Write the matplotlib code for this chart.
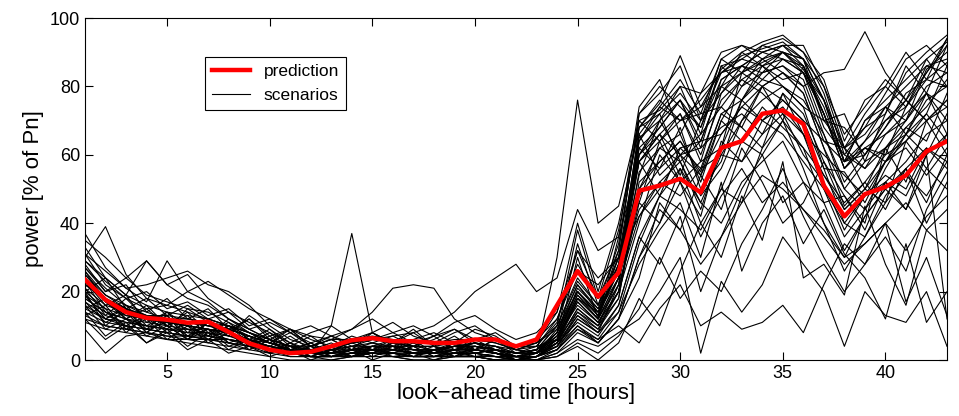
import numpy as np
import matplotlib.pyplot as plt

plt.rcParams['font.family'] = ['Liberation Sans', 'DejaVu Sans']

hours = np.arange(1, 44)

prediction = [23.5, 17.6, 14, 12.3, 11.8, 10.9, 11.2, 8.2, 4.9, 3, 2, 2.4, 4, 5.8, 6.4,
              5.5, 5.5, 5, 5, 6, 6, 4, 6, 16, 26, 18.5, 25.6, 49.5, 51, 53, 49, 62,
              64, 72, 73, 69, 51, 42, 48.5, 50.6, 54, 61, 64]

# scenario values per hour (1..43)
s01 = [30, 39, 25, 18, 16, 14, 12, 10, 8, 5, 3, 2, 2, 3, 4, 3, 2, 3, 4, 3, 2, 1, 2, 9, 22, 14, 32, 72, 78, 86, 70, 84, 89, 91, 93, 88, 76, 58, 70, 76, 82, 88, 93]
s02 = [37, 27, 21, 17, 29, 20, 17, 12, 9, 6, 4, 2, 1, 2, 3, 2, 2, 1, 2, 2, 1, 0, 1, 6, 18, 12, 28, 65, 70, 80, 78, 84, 86, 90, 92, 86, 72, 56, 64, 74, 70, 85, 90]
s03 = [33, 24, 19, 29, 22, 25, 18, 14, 11, 8, 5, 3, 3, 5, 6, 5, 4, 4, 5, 6, 5, 3, 5, 14, 40, 20, 40, 68, 75, 89, 74, 85, 90, 93, 95, 90, 82, 64, 76, 80, 74, 86, 88]
s04 = [28, 20, 22, 14, 18, 12, 15, 9, 12, 7, 9, 4, 6, 3, 8, 5, 9, 4, 7, 3, 6, 4, 6, 12, 28, 18, 26, 60, 66, 72, 58, 78, 84, 88, 90, 86, 70, 68, 60, 68, 78, 82, 80]
s05 = [25, 19, 15, 12, 11, 10, 9, 8, 6, 3, 2, 1, 1, 2, 3, 3, 2, 2, 3, 3, 2, 1, 2, 8, 20, 13, 30, 58, 64, 70, 72, 74, 82, 86, 88, 84, 68, 60, 56, 66, 72, 78, 92]
s06 = [22, 18, 14, 13, 12, 11, 10, 9, 7, 5, 3, 2, 2, 3, 4, 4, 3, 3, 4, 4, 3, 2, 3, 10, 24, 16, 34, 70, 73, 80, 66, 86, 88, 92, 94, 90, 78, 60, 68, 72, 84, 90, 95]
s07 = [20, 10, 15, 8, 13, 6, 11, 5, 3, 6, 2, 4, 1, 3, 0, 2, 4, 1, 3, 1, 2, 0, 0, 3, 12, 8, 22, 55, 62, 66, 52, 70, 80, 84, 86, 82, 66, 50, 58, 62, 66, 76, 80]
s08 = [18, 14, 12, 10, 9, 8, 8, 6, 5, 4, 2, 2, 1, 1, 2, 1, 1, 1, 1, 1, 0, 0, 1, 5, 15, 10, 24, 62, 68, 76, 64, 80, 84, 87, 90, 85, 74, 58, 62, 60, 74, 82, 87]
s09 = [26, 17, 12, 16, 10, 14, 8, 11, 6, 9, 4, 7, 3, 5, 8, 4, 6, 2, 5, 3, 6, 2, 3, 7, 16, 11, 20, 48, 56, 62, 64, 66, 74, 80, 84, 78, 62, 45, 52, 60, 64, 70, 76]
s10 = [24, 17, 13, 12, 11, 10, 9, 7, 5, 3, 1, 1, 1, 2, 2, 2, 1, 1, 2, 2, 1, 1, 1, 4, 14, 9, 18, 52, 58, 64, 55, 72, 76, 84, 86, 80, 64, 62, 50, 62, 68, 64, 78]
s11 = [21, 13, 18, 12, 9, 15, 11, 7, 13, 9, 5, 8, 10, 6, 8, 11, 7, 5, 8, 10, 6, 3, 5, 9, 20, 14, 24, 44, 52, 58, 46, 60, 70, 76, 80, 74, 56, 40, 48, 52, 58, 66, 70]
s12 = [19, 15, 8, 13, 10, 6, 11, 9, 4, 7, 3, 5, 2, 6, 3, 5, 8, 4, 2, 6, 3, 1, 3, 6, 17, 11, 20, 40, 60, 52, 42, 64, 58, 70, 74, 66, 50, 36, 44, 52, 48, 60, 66]
s13 = [16, 9, 12, 7, 10, 6, 9, 4, 6, 2, 4, 1, 3, 1, 4, 2, 1, 3, 1, 4, 2, 0, 2, 5, 13, 8, 16, 36, 48, 56, 40, 50, 64, 60, 70, 62, 46, 32, 42, 50, 44, 56, 50]
s14 = [23, 16, 19, 11, 14, 8, 12, 10, 5, 8, 3, 5, 2, 4, 1, 3, 5, 2, 4, 2, 3, 1, 2, 6, 19, 12, 22, 66, 54, 60, 62, 68, 72, 66, 78, 72, 58, 44, 50, 58, 62, 54, 62]
s15 = [12, 10, 9, 8, 7, 7, 6, 5, 4, 3, 2, 2, 10, 37, 8, 5, 4, 4, 3, 3, 2, 1, 2, 6, 14, 10, 18, 50, 62, 58, 44, 62, 76, 70, 66, 58, 50, 40, 36, 46, 54, 48, 58]
s16 = [15, 12, 11, 10, 9, 8, 7, 6, 5, 4, 3, 2, 2, 3, 3, 3, 2, 3, 4, 5, 4, 3, 2, 30, 76, 40, 45, 70, 64, 72, 60, 76, 82, 78, 72, 66, 60, 54, 48, 58, 66, 72, 64]
s17 = [17, 13, 11, 10, 9, 9, 8, 7, 6, 5, 4, 4, 6, 9, 14, 21, 22, 21, 12, 8, 6, 4, 4, 12, 26, 22, 30, 46, 40, 52, 36, 48, 56, 46, 52, 44, 38, 30, 34, 40, 46, 38, 44]
s18 = [14, 11, 10, 9, 8, 7, 6, 6, 5, 4, 3, 3, 4, 5, 6, 7, 8, 10, 14, 20, 24, 28, 20, 24, 44, 32, 36, 58, 66, 60, 54, 70, 64, 74, 68, 62, 54, 46, 52, 44, 56, 62, 58]
s19 = [27, 20, 24, 29, 22, 18, 16, 12, 9, 6, 4, 3, 2, 2, 3, 3, 2, 2, 2, 3, 2, 1, 1, 5, 18, 14, 26, 64, 74, 70, 74, 80, 76, 82, 80, 76, 66, 52, 60, 70, 76, 70, 74]
s20 = [31, 26, 21, 22, 24, 26, 22, 20, 16, 10, 6, 4, 3, 3, 4, 4, 3, 3, 3, 4, 3, 2, 2, 8, 34, 16, 30, 60, 70, 76, 68, 82, 86, 84, 90, 88, 80, 62, 66, 74, 80, 86, 84]
s21 = [9, 2, 7, 8, 6, 5, 4, 3, 2, 1, 0, 0, 0, 1, 1, 1, 0, 0, 1, 1, 0, 0, 0, 2, 8, 5, 12, 30, 44, 38, 28, 36, 46, 54, 50, 44, 36, 28, 34, 40, 32, 42, 48]
s22 = [29, 23, 18, 15, 16, 20, 23, 19, 15, 12, 9, 7, 6, 6, 7, 6, 5, 5, 6, 6, 5, 3, 4, 11, 32, 18, 38, 68, 72, 78, 70, 88, 92, 90, 88, 84, 72, 56, 62, 58, 68, 74, 82]
s23 = [20, 24, 15, 18, 13, 16, 12, 14, 9, 11, 8, 10, 7, 9, 12, 8, 10, 7, 11, 13, 9, 6, 8, 14, 32, 24, 30, 42, 50, 60, 48, 56, 70, 80, 76, 70, 64, 58, 60, 68, 76, 84, 94]
s24 = [13, 10, 9, 8, 7, 6, 6, 5, 4, 3, 2, 1, 1, 1, 2, 2, 1, 1, 1, 1, 1, 0, 0, 2, 6, 4, 8, 12, 20, 30, 2, 23, 14, 22, 36, 28, 20, 4, 20, 13, 11, 20, 4]
s25 = [16, 12, 10, 9, 8, 7, 7, 6, 4, 3, 2, 1, 1, 2, 2, 2, 1, 1, 2, 2, 1, 1, 1, 3, 9, 6, 10, 5, 15, 22, 10, 14, 9, 11, 16, 8, 22, 34, 28, 40, 17, 30, 13]
s26 = [11, 9, 8, 7, 6, 6, 5, 4, 3, 2, 1, 1, 0, 1, 1, 1, 0, 0, 1, 1, 0, 0, 0, 1, 4, 0, 5, 18, 10, 26, 40, 30, 48, 35, 58, 24, 28, 19, 45, 28, 16, 38, 32]
s27 = [19, 12, 15, 9, 11, 7, 9, 5, 7, 3, 5, 2, 4, 1, 3, 2, 4, 1, 3, 5, 2, 0, 1, 4, 12, 8, 14, 28, 38, 46, 30, 52, 26, 40, 48, 34, 44, 31, 24, 12, 34, 11, 20]
s28 = [23, 14, 10, 13, 8, 11, 6, 9, 4, 2, 5, 1, 3, 1, 2, 4, 2, 3, 1, 2, 3, 1, 1, 5, 11, 7, 16, 36, 28, 42, 20, 36, 50, 60, 46, 52, 40, 26, 36, 48, 56, 40, 52]
s29 = [15, 18, 12, 9, 14, 10, 7, 12, 8, 5, 9, 6, 4, 7, 5, 3, 6, 8, 5, 9, 7, 3, 2, 4, 10, 5, 12, 24, 46, 38, 54, 44, 62, 52, 40, 46, 58, 48, 38, 52, 44, 60, 12]
s30 = [12, 6, 10, 5, 8, 3, 6, 2, 4, 1, 3, 0, 2, 1, 3, 1, 2, 0, 2, 1, 0, 1, 0, 1, 5, 2, 7, 15, 30, 18, 26, 20, 34, 44, 56, 42, 30, 20, 28, 36, 26, 44, 55]
s31 = [27, 21, 16, 14, 12, 11, 10, 8, 6, 4, 3, 2, 2, 3, 3, 3, 2, 2, 3, 3, 2, 1, 2, 7, 20, 13, 28, 62, 56, 68, 50, 58, 76, 86, 80, 74, 70, 62, 56, 62, 70, 78, 66]
s32 = [21, 16, 14, 12, 12, 11, 10, 9, 7, 5, 3, 2, 2, 3, 4, 4, 3, 3, 4, 4, 3, 2, 3, 8, 22, 15, 26, 54, 70, 60, 66, 74, 68, 62, 78, 66, 54, 44, 50, 46, 64, 72, 86]
s33 = [24, 18, 15, 13, 12, 12, 11, 10, 8, 6, 4, 3, 3, 4, 5, 4, 4, 3, 4, 5, 4, 2, 3, 10, 38, 18, 32, 72, 80, 74, 68, 86, 80, 88, 84, 80, 84, 85, 96, 84, 76, 70, 60]
s34 = [18, 14, 12, 11, 10, 9, 9, 8, 6, 4, 2, 1, 1, 2, 3, 2, 2, 2, 2, 3, 2, 1, 1, 4, 13, 9, 20, 46, 64, 52, 58, 62, 84, 80, 70, 86, 76, 62, 72, 80, 90, 82, 94]
s35 = [20, 15, 13, 12, 11, 10, 9, 8, 6, 4, 3, 2, 1, 2, 3, 3, 2, 2, 3, 3, 2, 1, 1, 5, 30, 12, 36, 74, 82, 66, 78, 90, 92, 88, 92, 92, 80, 66, 74, 82, 76, 88, 80]
s36 = [35, 30, 24, 19, 17, 15, 14, 11, 8, 5, 3, 2, 1, 2, 2, 2, 1, 1, 2, 2, 1, 0, 1, 6, 21, 15, 30, 66, 74, 82, 72, 88, 84, 92, 90, 88, 70, 72, 58, 72, 86, 78, 70]
s37 = [17, 11, 14, 8, 12, 9, 6, 10, 7, 5, 8, 4, 6, 3, 5, 7, 4, 6, 9, 5, 3, 2, 4, 6, 18, 12, 24, 58, 48, 62, 56, 72, 68, 80, 84, 78, 62, 50, 44, 56, 66, 60, 72]
s38 = [22, 18, 12, 15, 10, 13, 7, 10, 6, 4, 7, 3, 5, 2, 4, 6, 3, 2, 5, 3, 4, 1, 1, 5, 17, 11, 22, 42, 52, 48, 56, 60, 58, 66, 72, 60, 52, 38, 48, 54, 50, 62, 56]
s39 = [26, 19, 16, 13, 13, 12, 11, 9, 7, 5, 3, 2, 2, 3, 4, 3, 3, 3, 4, 4, 3, 2, 3, 8, 20, 14, 26, 64, 72, 58, 64, 80, 90, 86, 82, 84, 76, 58, 64, 70, 74, 84, 92]
s40 = [31, 22, 18, 20, 15, 17, 13, 15, 10, 12, 8, 5, 7, 4, 6, 8, 5, 7, 9, 6, 8, 4, 5, 10, 23, 16, 28, 58, 66, 54, 70, 78, 86, 82, 88, 86, 72, 56, 62, 66, 70, 80, 84]
s41 = [14, 7, 11, 5, 9, 4, 8, 3, 6, 2, 4, 1, 3, 1, 2, 4, 1, 3, 5, 2, 3, 0, 1, 3, 10, 6, 14, 34, 48, 44, 38, 50, 46, 62, 70, 56, 40, 30, 42, 50, 56, 46, 60]
s42 = [25, 18, 15, 13, 12, 11, 10, 9, 7, 5, 3, 2, 2, 3, 3, 3, 2, 2, 3, 3, 2, 1, 2, 6, 18, 12, 24, 60, 68, 76, 62, 82, 86, 90, 92, 88, 76, 62, 68, 78, 88, 92, 86]
s43 = [13, 16, 9, 12, 6, 10, 5, 8, 3, 6, 2, 4, 1, 3, 2, 5, 2, 4, 1, 3, 2, 0, 1, 3, 9, 5, 12, 30, 40, 56, 46, 40, 52, 58, 64, 52, 46, 48, 40, 62, 52, 70, 76]
s44 = [29, 24, 19, 16, 14, 13, 12, 10, 8, 6, 4, 3, 3, 4, 4, 4, 3, 3, 4, 4, 3, 2, 2, 7, 19, 13, 26, 68, 76, 70, 76, 84, 88, 86, 90, 84, 72, 58, 70, 74, 66, 78, 74]
s45 = [19, 12, 16, 10, 13, 7, 11, 8, 12, 6, 9, 4, 7, 5, 3, 6, 4, 7, 3, 5, 4, 2, 2, 5, 15, 10, 20, 50, 58, 64, 54, 66, 74, 70, 76, 70, 56, 55, 46, 58, 64, 56, 66]

scenarios = [s01, s02, s03, s04, s05, s06, s07, s08, s09, s10, s11, s12, s13, s14, s15,
             s16, s17, s18, s19, s20, s21, s22, s23, s24, s25, s26, s27, s28, s29, s30,
             s31, s32, s33, s34, s35, s36, s37, s38, s39, s40, s41, s42, s43, s44, s45]

fig = plt.figure(figsize=(9.59, 4.16), dpi=100)
ax = fig.add_axes([0.0886, 0.1346, 0.8989, 0.8221])

for i, s in enumerate(scenarios):
    ax.plot(hours, s, color='black', linewidth=0.8,
            label='scenarios' if i == 0 else None)
ax.plot(hours, prediction, color='red', linewidth=3.2, label='prediction', zorder=5)

ax.set_xlim(1, 43)
ax.set_ylim(0, 100)
ax.set_xticks([5, 10, 15, 20, 25, 30, 35, 40])
ax.set_yticks([0, 20, 40, 60, 80, 100])
ax.tick_params(direction='in', top=True, right=True, length=6, labelsize=13)
ax.set_xlabel('look\u2212ahead time [hours]', fontsize=16, labelpad=1)
ax.set_ylabel('power [% of Pn]', fontsize=16, labelpad=4)

handles, labels = ax.get_legend_handles_labels()
leg = ax.legend(handles[::-1], labels[::-1], loc='upper left',
                bbox_to_anchor=(0.139, 0.886), borderaxespad=0,
                fancybox=False, edgecolor='black', fontsize=12.5,
                handlelength=2.2, framealpha=1)
leg.get_frame().set_linewidth(0.8)

plt.savefig('out.png', dpi=100)
